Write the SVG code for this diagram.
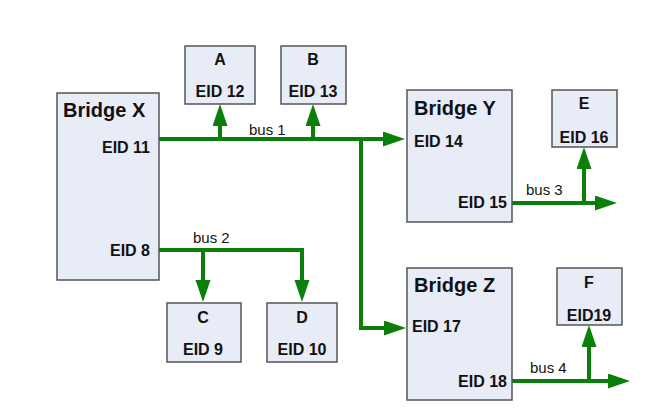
<svg xmlns="http://www.w3.org/2000/svg" width="659" height="414" viewBox="0 0 659 414">
<style>
.box{fill:#e8ecf7;stroke:#555;stroke-width:1.5}
.t{font-family:"Liberation Sans",Arial,sans-serif;fill:#111}
.h{font-size:20px;font-weight:bold}
.e{font-size:16px;font-weight:bold}
.b{font-size:15px}
.c{text-anchor:middle}
.r{text-anchor:end}
.w{fill:none;stroke:#0a800a;stroke-width:4;marker-end:url(#ah)}
</style>
<defs>
<marker id="ah" markerUnits="userSpaceOnUse" markerWidth="24" markerHeight="16" refX="1" refY="7.5" orient="auto">
<path d="M0,0 L22,7.5 L0,15 z" fill="#0a800a"/>
</marker>
</defs>
<rect width="659" height="414" fill="#fff"/>
<g id="connectors">
<path class="w" d="M159,139 H384"/>
<path class="w" d="M220,139 V125"/>
<path class="w" d="M313,139 V125"/>
<path class="w" d="M361,139 V328 H385"/>
<path class="w" d="M512,203 H596"/>
<path class="w" d="M584,203 V168"/>
<path class="w" d="M159,250 H302 V281"/>
<path class="w" d="M203,250 V281"/>
<path class="w" d="M512,381 H609"/>
<path class="w" d="M589,381 V346"/>
<text class="t b" x="249" y="135">bus 1</text>
<text class="t b" x="193" y="243">bus 2</text>
<text class="t b" x="526" y="195">bus 3</text>
<text class="t b" x="530" y="373">bus 4</text>
</g>
<g id="bridgeX">
<rect class="box" x="57" y="93" width="102" height="187"/>
<text class="t h" x="63" y="117">Bridge X</text>
<text class="t e r" x="150" y="153">EID 11</text>
<text class="t e r" x="150" y="256">EID 8</text>
</g>
<g id="nodeA">
<rect class="box" x="185" y="46" width="70" height="58"/>
<text class="t e c" x="220" y="65">A</text>
<text class="t e c" x="220" y="97">EID 12</text>
</g>
<g id="nodeB">
<rect class="box" x="281" y="46" width="65" height="58"/>
<text class="t e c" x="313" y="65">B</text>
<text class="t e c" x="313" y="97">EID 13</text>
</g>
<g id="bridgeY">
<rect class="box" x="407" y="90" width="105" height="132"/>
<text class="t h" x="414" y="115">Bridge Y</text>
<text class="t e" x="414" y="147">EID 14</text>
<text class="t e r" x="507" y="208">EID 15</text>
</g>
<g id="nodeE">
<rect class="box" x="552" y="90" width="65" height="57"/>
<text class="t e c" x="584" y="109">E</text>
<text class="t e c" x="584" y="143">EID 16</text>
</g>
<g id="nodeC">
<rect class="box" x="167" y="303" width="74" height="59"/>
<text class="t e c" x="203" y="323">C</text>
<text class="t e c" x="203" y="355">EID 9</text>
</g>
<g id="nodeD">
<rect class="box" x="267" y="303" width="70" height="59"/>
<text class="t e c" x="302" y="323">D</text>
<text class="t e c" x="302" y="355">EID 10</text>
</g>
<g id="bridgeZ">
<rect class="box" x="407" y="268" width="105" height="132"/>
<text class="t h" x="414" y="292">Bridge Z</text>
<text class="t e" x="412" y="332">EID 17</text>
<text class="t e r" x="507" y="387">EID 18</text>
</g>
<g id="nodeF">
<rect class="box" x="557" y="268" width="65" height="57"/>
<text class="t e c" x="589" y="288">F</text>
<text class="t e c" x="589" y="321">EID19</text>
</g>
</svg>
